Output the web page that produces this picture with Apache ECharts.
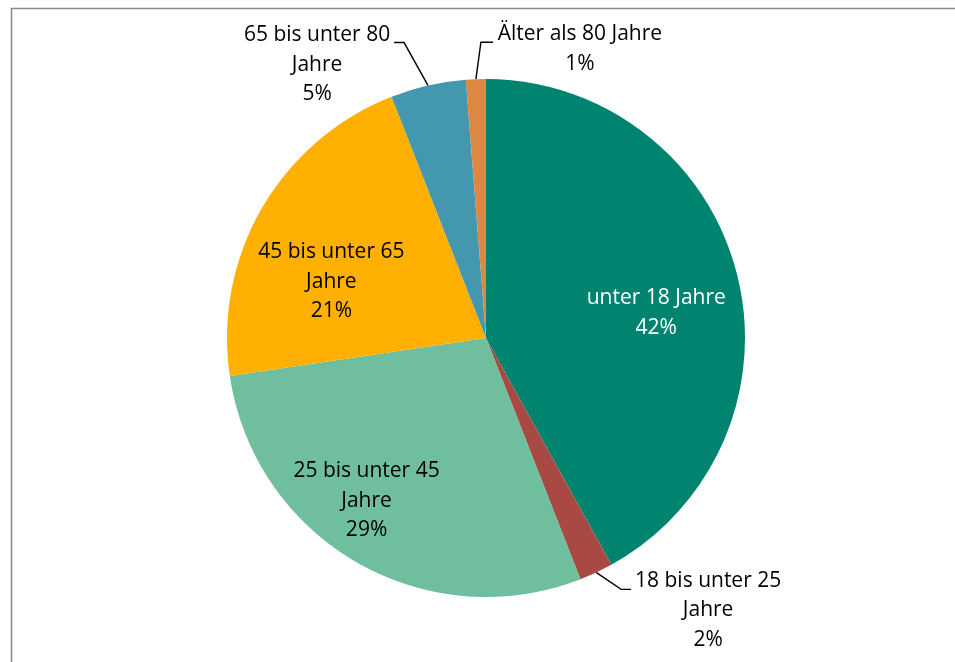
<!DOCTYPE html>
<html>
<head>
<meta charset="utf-8">
<script src="https://cdn.jsdelivr.net/npm/echarts@6/dist/echarts.min.js"></script>
<style>
html,body{margin:0;padding:0;background:#fff;}
#chart{width:955px;height:662px;}
</style>
</head>
<body>
<div id="chart"></div>
<script>
// ---- data ----
const categories = ['unter 18 Jahre', '18 bis unter 25\nJahre', '25 bis unter 45\nJahre', '45 bis unter 65\nJahre', '65 bis unter 80\nJahre', 'Älter als 80 Jahre'];
const shares = [41.96, 2.1, 28.6, 21.4, 4.7, 1.24];
const sliceColors = ['#00836F', '#A84943', '#6FBF9F', '#FFB000', '#4398B0', '#DC8840'];
const labelColors = ['#ffffff', '#000000', '#000000', '#000000', '#000000', '#000000'];
const outsideLabel = [false, true, false, false, true, true];

// label placement relative to the library's own anchor (px offsets)
const inOffset = { 0: [42, 8], 2: [-53, 48], 3: [-40, 10] };
const outOffset = {
  1: { text: [112, 38], bend: [25, 17], end: [35, 17] },
  4: { text: [-111, -21], bend: [-24, -43], end: [-34, -43] },
  5: { text: [104, -30], bend: [5, -37], end: [17, -37] }
};

const chart = echarts.init(document.getElementById('chart'));
const data = categories.map((c, i) => ({
  name: c,
  value: shares[i],
  itemStyle: { color: sliceColors[i] },
  label: {
    position: outsideLabel[i] ? 'outside' : 'inside',
    color: labelColors[i]
  },
  labelLine: { show: outsideLabel[i] }
}));

chart.setOption({
  animation: false,
  backgroundColor: '#ffffff',
  graphic: [{
    type: 'rect',
    shape: { x: 11.5, y: 8.5, width: 1000, height: 700 },
    style: { fill: 'none', stroke: '#8a8a8a', lineWidth: 1.5 },
    silent: true
  }],
  series: [{
    type: 'pie',
    center: [486, 338],
    radius: 259,
    startAngle: 90,
    clockwise: true,
    avoidLabelOverlap: false,
    percentPrecision: 0,
    itemStyle: { borderWidth: 0 },
    label: {
      show: true,
      formatter: '{b}\n{d}%',
      fontFamily: 'Open Sans',
      fontSize: 21,
      lineHeight: 29.5,
      align: 'center'
    },
    labelLine: {
      show: true,
      length: 15,
      length2: 10,
      lineStyle: { color: '#000000', width: 1.4 }
    },
    labelLayout: function (p) {
      const i = p.dataIndex;
      if (inOffset[i]) {
        return { dx: inOffset[i][0], dy: inOffset[i][1] };
      }
      const o = outOffset[i];
      if (o && p.labelLinePoints) {
        const s = p.labelLinePoints[0];
        return {
          x: s[0] + o.text[0],
          y: s[1] + o.text[1],
          align: 'center',
          verticalAlign: 'middle',
          labelLinePoints: [
            [s[0], s[1]],
            [s[0] + o.bend[0], s[1] + o.bend[1]],
            [s[0] + o.end[0], s[1] + o.end[1]]
          ]
        };
      }
      return {};
    },
    data: data
  }]
});
</script>
</body>
</html>
